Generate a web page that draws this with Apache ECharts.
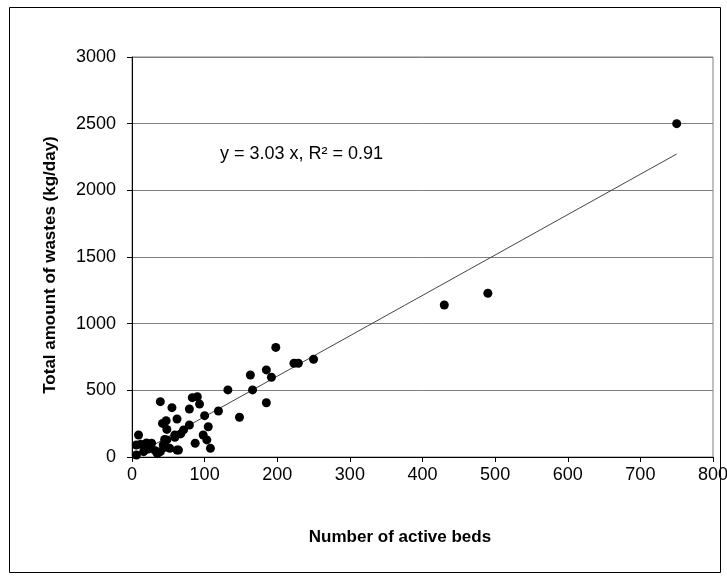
<!DOCTYPE html>
<html>
<head>
<meta charset="utf-8">
<script src="https://cdn.jsdelivr.net/npm/echarts@6/dist/echarts.min.js"></script>
<style>
html, body { margin: 0; padding: 0; background: #fff; }
#chart { width: 727px; height: 579px; }
</style>
</head>
<body>
<div id="chart"></div>
<script>
// beds vs total waste (kg/day)
var beds  = [198, 223, 229, 250, 163, 185, 192, 132, 166, 185, 39, 83, 90, 93, 79, 55, 119, 148, 62, 100,
             47, 42, 79, 105, 48, 71, 67, 98, 103, 59, 45, 87, 108, 62, 45, 27, 32, 9, 6, 6,
             20, 16, 39, 43, 48, 52, 59, 64, 22, 35, 12, 430, 490, 750];
var waste = [822, 703, 703, 733, 615, 653, 598, 503, 503, 407, 415, 445, 452, 397, 360, 370, 345, 298, 285, 310,
             272, 252, 240, 227, 207, 203, 173, 165, 128, 148, 132, 103, 65, 52, 73, 103, 47, 165, 90, 15,
             105, 40, 40, 90, 128, 65, 165, 52, 60, 25, 95, 1140, 1228, 2500];
var slope = 3.03;
var fitX = [0, 750];
var xTicks = [0, 100, 200, 300, 400, 500, 600, 700, 800];
var yTicks = [0, 500, 1000, 1500, 2000, 2500, 3000];

var pts = beds.map(function (b, i) { return [b, waste[i]]; });
var fit = fitX.map(function (x) { return [x, slope * x]; });

var myChart = echarts.init(document.getElementById('chart'));
var option = {
    animation: false,
    backgroundColor: '#fff',
    textStyle: { fontFamily: 'Liberation Sans' },
    grid: {
        left: 132, right: 14, top: 57, bottom: 122,
        outerBoundsMode: 'none',
        show: true, borderColor: '#808080', borderWidth: 1
    },
    xAxis: {
        type: 'value',
        min: xTicks[0], max: xTicks[xTicks.length - 1], interval: 100,
        axisLine: { show: true, onZero: false, lineStyle: { color: '#000', width: 1 } },
        axisTick: { show: true, length: 5, lineStyle: { color: '#000' } },
        axisLabel: { fontSize: 18, color: '#000', margin: 9, formatter: function (v) { return String(v); } },
        splitLine: { show: false }
    },
    yAxis: {
        type: 'value',
        min: yTicks[0], max: yTicks[yTicks.length - 1], interval: 500,
        axisLine: { show: true, lineStyle: { color: '#000', width: 1 } },
        axisTick: { show: true, length: 5, lineStyle: { color: '#000' } },
        axisLabel: { fontSize: 18, color: '#000', margin: 16, formatter: function (v) { return String(v); } },
        splitLine: { show: true, lineStyle: { color: '#808080', width: 1 } }
    },
    series: [
        {
            type: 'line',
            data: fit,
            symbol: 'none',
            lineStyle: { color: '#444', width: 1 },
            z: 2
        },
        {
            type: 'scatter',
            data: pts,
            symbolSize: 9,
            itemStyle: { color: '#000', opacity: 1 },
            z: 3
        }
    ],
    graphic: [
        {
            type: 'rect',
            shape: { x: 9.5, y: 7.5, width: 711, height: 565 },
            style: { fill: 'none', stroke: '#000', lineWidth: 1 }
        },
        {
            type: 'text',
            left: 220, top: 145,
            style: { text: 'y = 3.03 x, R² = 0.91', fontSize: 18, fill: '#000', fontFamily: 'Liberation Sans' }
        },
        {
            type: 'text',
            x: 400, y: 537,
            style: {
                text: 'Number of active beds', fontSize: 17, fontWeight: 'bold', fill: '#000',
                fontFamily: 'Liberation Sans', align: 'center', verticalAlign: 'middle'
            }
        },
        {
            type: 'text',
            x: 50, y: 265, rotation: Math.PI / 2,
            style: {
                text: 'Total amount of wastes (kg/day)', fontSize: 17, fontWeight: 'bold', fill: '#000',
                fontFamily: 'Liberation Sans', align: 'center', verticalAlign: 'middle'
            }
        }
    ]
};
myChart.setOption(option, true);
</script>
</body>
</html>
